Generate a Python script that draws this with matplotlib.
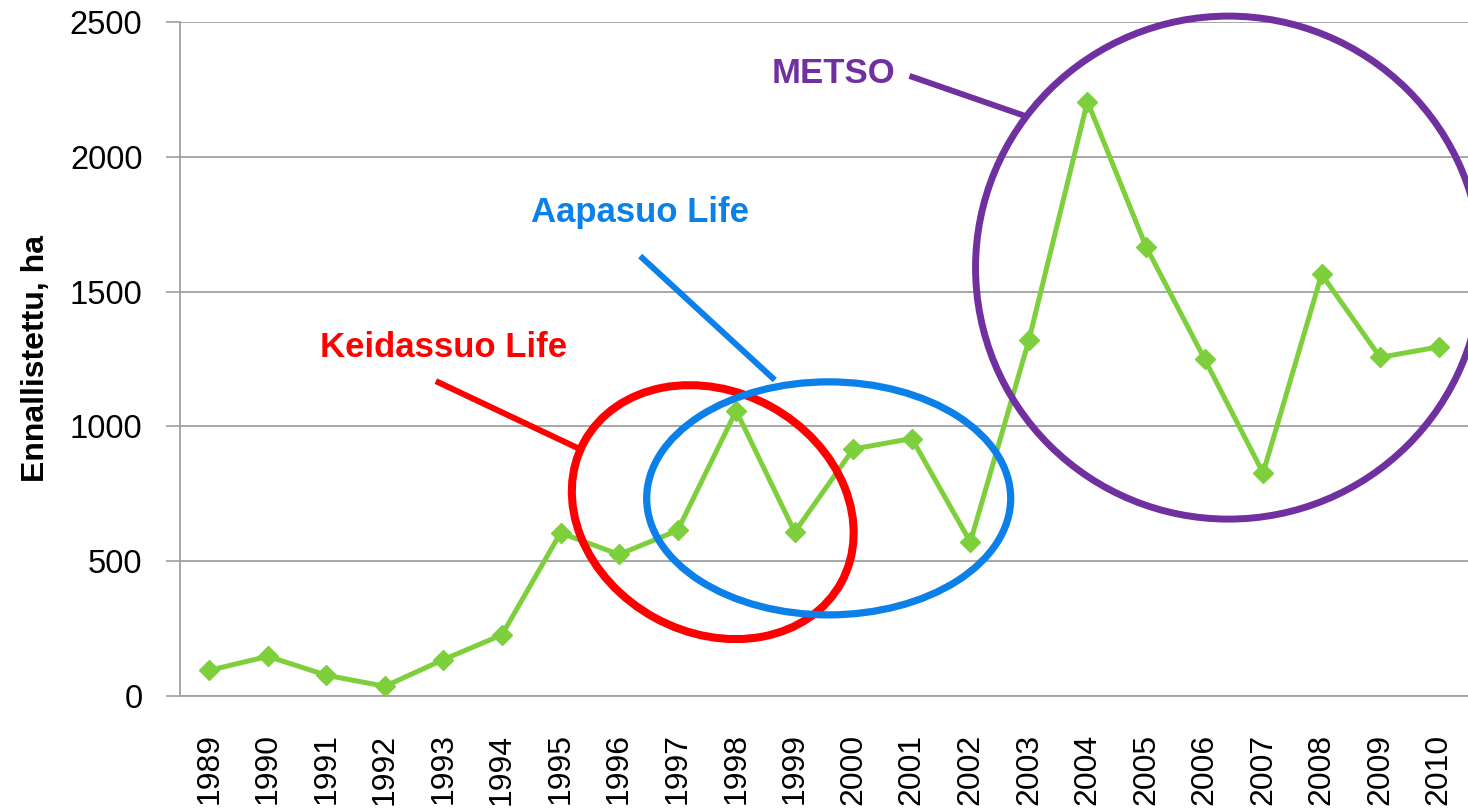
import numpy as np
import matplotlib.pyplot as plt
from matplotlib import font_manager
from matplotlib.patches import Ellipse
from matplotlib.transforms import ScaledTranslation

years = ["1989", "1990", "1991", "1992", "1993", "1994", "1995", "1996",
         "1997", "1998", "1999", "2000", "2001", "2002", "2003", "2004",
         "2005", "2006", "2007", "2008", "2009", "2010"]
hectares = [95, 147, 77, 36, 135, 227, 605, 525, 614, 1058, 608, 916,
            955, 571, 1320, 2205, 1667, 1250, 827, 1564, 1256, 1295]
y_ticks = [0, 500, 1000, 1500, 2000, 2500]
ylabel = "Ennallistettu, ha"

# narrow bold font for the callouts if we have one
names = {f.name for f in font_manager.fontManager.ttflist}
if "Liberation Sans Narrow" in names:
    ann_font, ann_size = "Liberation Sans Narrow", 30
else:
    ann_font, ann_size = "Liberation Sans", 25

fig = plt.figure(figsize=(14.68, 8.09), dpi=100)
ax = fig.add_axes([0.1226, 0.1397, 0.8774, 0.8331])

x = np.arange(len(years))
ax.plot(x, hectares, color="#7DCF3B", lw=3.6, marker="D", markersize=10.5, zorder=3)

ax.set_xlim(-0.5, len(years) - 0.5)
ax.set_ylim(0, 2500)
ax.set_yticks(y_ticks)
ax.set_yticklabels([str(t) for t in y_ticks], fontsize=23.5, family="Liberation Sans")
ax.set_xticks(x)
ax.set_xticklabels(years, rotation=90, fontsize=23, family="Liberation Sans")
ax.tick_params(axis="y", length=10, width=1.2, color="#A0A0A0", pad=17)
ax.tick_params(axis="x", length=0, pad=27)
ax.grid(axis="y", color="#A0A0A0", lw=1.3)
ax.set_axisbelow(True)
for s in ["top", "right"]:
    ax.spines[s].set_visible(False)
for s in ["left", "bottom"]:
    ax.spines[s].set_color("#A0A0A0")
    ax.spines[s].set_linewidth(1.3)
ax.set_ylabel(ylabel, fontsize=23, fontweight="bold", family="Liberation Sans")
ax.yaxis.set_label_coords(-0.1, 0.50)


def ring(cx, cy, w, h, angle, color, lw):
    # ellipse anchored at data point, sized in pixels
    tr = fig.dpi_scale_trans + ScaledTranslation(cx, cy, ax.transData)
    e = Ellipse((0, 0), w / 100, h / 100, angle=angle, transform=tr,
                fill=False, edgecolor=color, lw=lw, clip_on=False, zorder=4)
    ax.add_patch(e)


red, blue, purple = "#FF0000", "#0A80E8", "#7030A0"

ring(8.60, 682, 293, 241, -28.7, red, 5.8)
ring(10.58, 733, 364, 233, 0, blue, 5.2)
ring(17.41, 1589, 506, 503, 0, purple, 5.0)

ax.plot([3.87, 6.29], [1168, 920], color=red, lw=4.3, clip_on=False, solid_capstyle="butt", zorder=4)
ax.plot([7.36, 9.66], [1632, 1172], color=blue, lw=4.3, clip_on=False, solid_capstyle="butt", zorder=4)
ax.plot([11.96, 13.98], [2300, 2148], color=purple, lw=4.3, clip_on=False, solid_capstyle="butt", zorder=4)

ax.text(4.00, 1257, "Keidassuo Life", color=red, fontsize=ann_size, fontweight="bold",
        family=ann_font, ha="center", va="baseline")
ax.text(7.36, 1758, "Aapasuo Life", color=blue, fontsize=ann_size, fontweight="bold",
        family=ann_font, ha="center", va="baseline")
ax.text(10.67, 2274, "METSO", color=purple, fontsize=ann_size, fontweight="bold",
        family=ann_font, ha="center", va="baseline")

fig.savefig("out.png", dpi=100)
